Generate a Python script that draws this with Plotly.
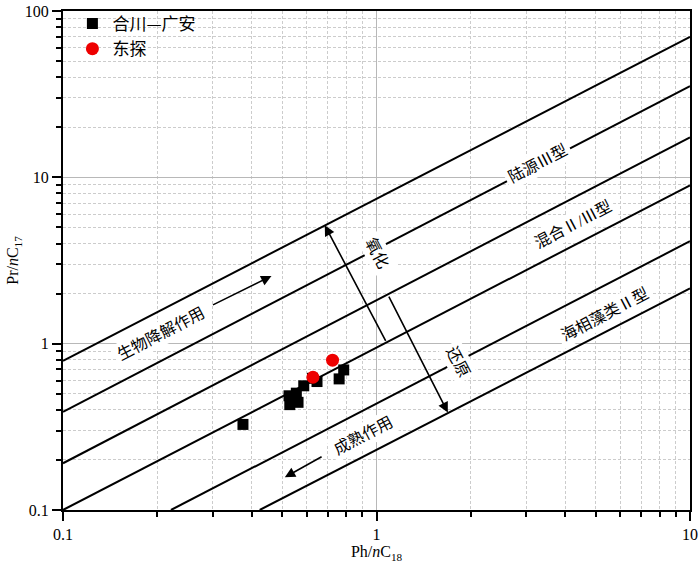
import numpy as np
import plotly.graph_objects as go

# samples (Ph/nC18, Pr/nC17)
hc_ga_x = [0.375, 0.526, 0.529, 0.562, 0.555, 0.545, 0.586, 0.646, 0.625, 0.760, 0.786]
hc_ga_y = [0.327, 0.486, 0.430, 0.444, 0.504, 0.465, 0.558, 0.592, 0.619, 0.614, 0.695]
dt_x = [0.627, 0.724]
dt_y = [0.628, 0.796]

# boundary lines, endpoints (x0, y0, x1, y1)
bound_lines = [
    (0.1, 0.789, 10, 70.0),
    (0.1, 0.389, 10, 35.3),
    (0.1, 0.191, 10, 17.4),
    (0.1, 0.100, 10, 8.96),
    (0.221, 0.100, 10, 4.13),
    (0.424, 0.100, 10, 2.15),
]

# arrows: tail (x, y) -> head (x, y)
arrows = [
    (1.076, 1.018, 0.684, 5.15),    # 氧化
    (1.089, 1.96, 1.689, 0.385),    # 还原
    (0.2976, 1.693, 0.4624, 2.554), # 生物降解作用
    (0.6755, 0.2116, 0.5099, 0.1572),  # 成熟作用
]

# labels: text, x, y, angle
labels = [
    ("生物降解作用", 0.206, 1.147, -27.6),
    ("陆源Ⅲ型", 3.28, 12.06, -27.6),
    ("混合Ⅱ/Ⅲ型", 4.24, 5.18, -27.6),
    ("海相藻类Ⅱ型", 5.35, 1.488, -27.6),
    ("氧化", 1.0, 3.51, 62.4),
    ("还原", 1.816, 0.778, 62.4),
    ("成熟作用", 0.906, 0.282, -27.6),
]

x_major = [0.1, 1, 10]
y_major = [0.1, 1, 10, 100]
x_minor = [m * d for d in [0.1, 1] for m in range(2, 10)]
y_minor = [m * d for d in [0.1, 1, 10] for m in range(2, 10)]

FONT = "Liberation Serif, Times New Roman, Noto Sans CJK SC"
CJK = "Noto Sans CJK SC, Liberation Serif"

fig = go.Figure()

for x0, y0, x1, y1 in bound_lines:
    fig.add_trace(go.Scatter(x=[x0, x1], y=[y0, y1], mode="lines",
                             line=dict(color="black", width=2),
                             showlegend=False, hoverinfo="skip"))

fig.add_trace(go.Scatter(x=hc_ga_x, y=hc_ga_y, mode="markers", name="合川—广安",
                         marker=dict(symbol="square", size=11, color="black")))
fig.add_trace(go.Scatter(x=dt_x, y=dt_y, mode="markers", name="东探",
                         marker=dict(symbol="circle", size=13, color="#ee0000")))

for tx, ty, hx, hy in arrows:
    fig.add_annotation(x=np.log10(hx), y=np.log10(hy), ax=np.log10(tx), ay=np.log10(ty),
                       xref="x", yref="y", axref="x", ayref="y", text="",
                       showarrow=True, arrowhead=2, arrowsize=1.3, arrowwidth=1.6,
                       arrowcolor="black", standoff=0, startstandoff=0)

for txt, lx, ly, ang in labels:
    fig.add_annotation(x=np.log10(lx), y=np.log10(ly), xref="x", yref="y", text=txt,
                       showarrow=False, textangle=ang, bgcolor="white", borderpad=3,
                       font=dict(family=FONT, size=16, color="black"))

axis_common = dict(
    type="log", showline=True, linewidth=2, linecolor="black", mirror=True,
    ticks="outside", ticklen=9, tickwidth=1.5, tickcolor="black",
    showgrid=True, gridcolor="#b8b8b8", gridwidth=1, zeroline=False,
    automargin=False, ticklabeloverflow="allow",
    tickfont=dict(family=FONT, size=16, color="black"),
)

fig.update_xaxes(**axis_common, range=[-1, 1], tickmode="array", tickvals=x_major,
                 ticktext=["0.1", "1", "10"],
                 minor=dict(tickmode="array", tickvals=x_minor, ticks="outside", ticklen=5,
                            tickwidth=1.5, tickcolor="black", showgrid=True,
                            gridcolor="#cccccc", griddash="3px,2px", gridwidth=1),
                 title=dict(text="Ph/<i>n</i>C<sub>18</sub>", standoff=4,
                            font=dict(family=FONT, size=16, color="black")))
fig.update_yaxes(**axis_common, range=[-1, 2], tickmode="array", tickvals=y_major,
                 ticktext=["0.1", "1", "10", "100"],
                 minor=dict(tickmode="array", tickvals=y_minor, ticks="outside", ticklen=5,
                            tickwidth=1.5, tickcolor="black", showgrid=True,
                            gridcolor="#cccccc", griddash="3px,2px", gridwidth=1),
                 title=dict(text="Pr/<i>n</i>C<sub>17</sub>", standoff=2,
                            font=dict(family=FONT, size=16, color="black")))

fig.update_layout(
    width=700, height=563,
    margin=dict(l=63, r=10, t=6, b=53),
    paper_bgcolor="white", plot_bgcolor="white",
    font=dict(family=FONT, size=16, color="black"),
    legend=dict(x=0.015, y=1.01, xanchor="left", yanchor="top",
                bgcolor="rgba(0,0,0,0)", font=dict(family=CJK, size=17),
                tracegroupgap=0, itemwidth=30),
)

# page body has a default 8px margin; drop it so the figure fills the window
fig.write_html("out.html", config={"displayModeBar": False},
               post_script="document.body.style.margin='0';")
